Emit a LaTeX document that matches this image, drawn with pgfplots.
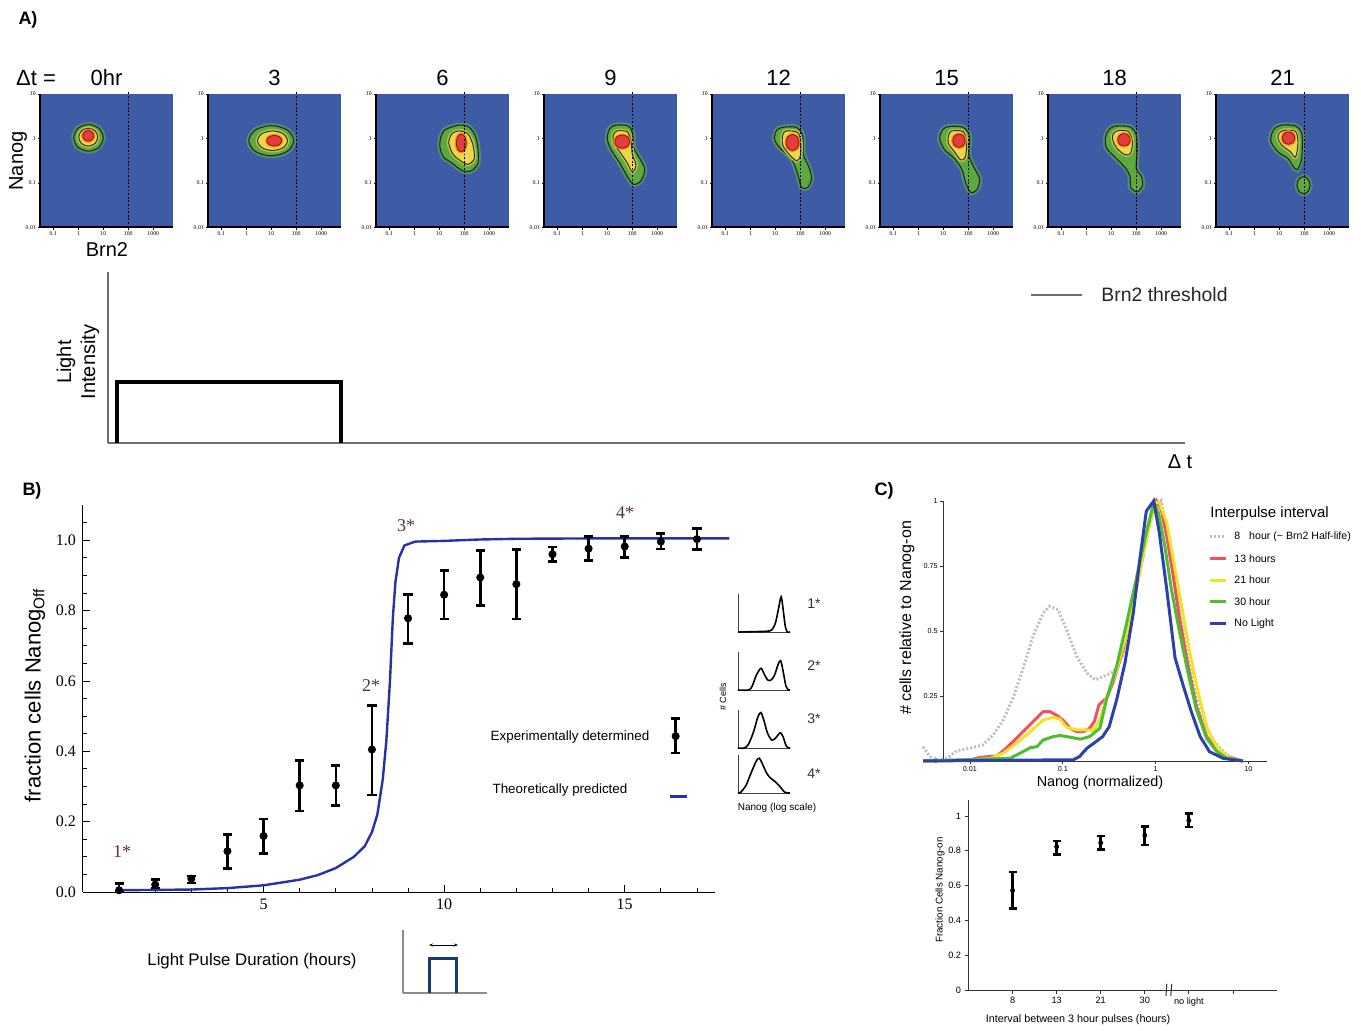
\documentclass[border=0pt]{standalone}
\usepackage{pgfplots}
\pgfplotsset{compat=1.18}
\usepackage{pgfplotstable}
\usepackage{fontspec}
\setmainfont{Liberation Sans}
\newfontfamily\serifff{Liberation Serif}
\usetikzlibrary{arrows.meta}

\definecolor{hmblue}{RGB}{62,92,166}
\definecolor{hmgreen}{RGB}{92,170,62}
\definecolor{hmglow}{RGB}{80,140,110}
\definecolor{hmyellow}{RGB}{236,214,78}
\definecolor{hmred}{RGB}{226,62,62}
\definecolor{bcurve}{RGB}{40,50,165}
\definecolor{cgray}{RGB}{190,190,190}
\definecolor{cred}{RGB}{240,80,95}
\definecolor{cyellow}{RGB}{238,228,40}
\definecolor{cgreen}{RGB}{80,188,50}
\definecolor{cblue}{RGB}{45,65,170}
\definecolor{pulseblue}{RGB}{25,60,110}
\definecolor{axgray}{RGB}{110,110,110}
\definecolor{starA}{RGB}{115,40,40}
\definecolor{starB}{RGB}{80,55,50}

\newcommand\fs[1]{\fontsize{#1}{#1}\selectfont}

\pgfplotsset{
  hm/.style={
    scale only axis, width=66.5pt, height=66.75pt, anchor=south west,
    xmin=-1.53, xmax=3.79, ymin=-2, ymax=1,
    axis x line*=bottom, axis y line*=left,
    axis line style={line width=1pt, black},
    axis background/.style={fill=hmblue},
    axis on top,
    xtick={-1,0,1,2,3}, xticklabels={0.1,1,10,100,1000},
    ytick={-2,-1,0,1}, yticklabels={0.01,0.1,1,10},
    tick label style={font=\serifff\fs{2.9}, inner sep=0.7pt},
    major tick length=1.2pt, tick align=outside,
    tick style={black, line width=0.3pt},
    clip=false,
  },
  outer/.style={fill=hmgreen, draw=black!85, line width=0.55pt, smooth cycle,
    preaction={draw=hmglow, line width=2.6pt}},
  mid/.style={fill=hmyellow, draw=black!85, line width=0.45pt, smooth cycle,
    preaction={draw=hmyellow!60!hmgreen, line width=2pt}},
  core/.style={fill=hmred, draw=red!45!black, line width=0.3pt, smooth cycle,
    preaction={draw=orange!80!hmyellow, line width=1.6pt}},
  thr/.style={black, dash pattern=on 0.9pt off 0.9pt, line width=0.35pt},
  inset/.style={scale only axis, width=26pt, height=19pt, anchor=south west,
    xmin=0, xmax=1, ymin=0, ymax=1.05, axis x line*=bottom, axis y line*=left,
    axis line style={black!75, line width=0.4pt}, xtick=\empty, ytick=\empty, clip=false},
  hist/.style={black, line width=0.8pt, smooth, tension=0.5},
  expbar/.style={black, only marks, mark=*, mark size=1.8pt,
    error bars/.cd, y dir=both, y explicit,
    error bar style={line width=1.3pt, black},
    error mark options={rotate=90, mark size=2.3pt, line width=1.3pt, black}},
}

\pgfplotstableread{
x y ep em
1 0.005 0.019 0.005
2 0.021 0.014 0.010
3 0.038 0.007 0.012
4 0.116 0.048 0.050
5 0.159 0.049 0.050
6 0.303 0.071 0.073
7 0.303 0.057 0.057
8 0.405 0.125 0.129
9 0.778 0.067 0.071
10 0.845 0.068 0.069
11 0.894 0.076 0.079
12 0.875 0.098 0.099
13 0.960 0.021 0.021
14 0.976 0.034 0.033
15 0.982 0.028 0.031
16 0.996 0.023 0.021
17 1.003 0.031 0.030
}\expdata

\pgfplotstableread{
x y ep em
16.41 0.443 0.051 0.048
}\expglyph

\pgfplotstableread{
x y ep em
1 0.572 0.106 0.104
2 0.823 0.033 0.044
3 0.846 0.039 0.038
4 0.889 0.053 0.056
5 0.975 0.040 0.038
}\nanogon

\begin{document}
\begin{tikzpicture}

% ---------------- Panel A heatmaps ----------------
\begin{axis}[hm, at={(20pt,401.25pt)}]
\addplot[outer] coordinates {(1.0,0.015) (0.829,0.228) (0.41,0.315) (-0.009,0.228) (-0.18,0.015) (-0.009,-0.198) (0.41,-0.285) (0.829,-0.198)};
\addplot[mid] coordinates {(0.78,0.03) (0.67,0.172) (0.4,0.23) (0.13,0.172) (0.02,0.03) (0.13,-0.112) (0.4,-0.17) (0.67,-0.112)};
\addplot[core] coordinates {(0.62,0.06) (0.556,0.145) (0.4,0.18) (0.244,0.145) (0.18,0.06) (0.244,-0.025) (0.4,-0.06) (0.556,-0.025)};
\addplot[thr] coordinates {(2,-2) (2,1.06)};
\end{axis}

\begin{axis}[hm, at={(104pt,401.25pt)}]
\addplot[outer] coordinates {(1.9,-0.05) (1.639,0.191) (1.0,0.29) (0.361,0.191) (0.1,-0.05) (0.361,-0.291) (1.0,-0.39) (1.639,-0.291)};
\addplot[mid] coordinates {(1.65,-0.05) (1.476,0.106) (1.05,0.17) (0.624,0.106) (0.45,-0.05) (0.624,-0.206) (1.05,-0.27) (1.476,-0.206)};
\addplot[core] coordinates {(1.42,-0.05) (1.333,0.035) (1.12,0.07) (0.907,0.035) (0.82,-0.05) (0.907,-0.135) (1.12,-0.17) (1.333,-0.135)};
\addplot[thr] coordinates {(2,-2) (2,1.06)};
\end{axis}

\begin{axis}[hm, at={(188pt,401.25pt)}]
\addplot[outer] coordinates {(1.8,0.3) (2.2,0.25) (2.45,0.05) (2.55,-0.25) (2.55,-0.55) (2.3,-0.72) (1.95,-0.73) (1.5,-0.55) (1.15,-0.4) (1.02,-0.12) (1.2,0.18)};
\addplot[mid] coordinates {(1.8,0.17) (2.15,0.1) (2.35,-0.15) (2.4,-0.45) (2.15,-0.58) (1.85,-0.5) (1.55,-0.35) (1.38,-0.1) (1.5,0.1)};
\addplot[core] coordinates {(2.08,-0.1) (2.022,0.042) (1.88,0.1) (1.738,0.042) (1.68,-0.1) (1.738,-0.242) (1.88,-0.3) (2.022,-0.242)};
\addplot[thr] coordinates {(2,-2) (2,1.06)};
\end{axis}

\begin{axis}[hm, at={(272pt,401.25pt)}]
\addplot[outer] coordinates {(1.35,0.3) (1.85,0.28) (2.02,0.1) (2.05,-0.2) (2.3,-0.45) (2.5,-0.7) (2.35,-0.95) (2.05,-1.03) (1.8,-0.85) (1.5,-0.55) (1.15,-0.25) (1.0,0.0) (1.1,0.22)};
\addplot[mid] coordinates {(1.4,0.17) (1.8,0.15) (1.95,-0.05) (2.0,-0.35) (2.15,-0.6) (2.0,-0.75) (1.8,-0.55) (1.5,-0.3) (1.25,-0.1) (1.25,0.08)};
\addplot[core] coordinates {(1.9,-0.07) (1.813,0.037) (1.6,0.08) (1.387,0.037) (1.3,-0.07) (1.387,-0.177) (1.6,-0.22) (1.813,-0.177)};
\addplot[thr] coordinates {(2,-2) (2,1.06)};
\end{axis}

\begin{axis}[hm, at={(356pt,401.25pt)}]
\addplot[outer] coordinates {(1.3,0.25) (1.85,0.25) (2.1,0.05) (2.12,-0.35) (2.35,-0.65) (2.45,-0.9) (2.3,-1.1) (2.05,-1.1) (1.9,-0.8) (1.65,-0.45) (1.2,-0.22) (0.97,-0.02) (1.05,0.18)};
\addplot[mid] coordinates {(1.45,0.17) (1.9,0.13) (2.02,-0.1) (2.0,-0.4) (1.85,-0.5) (1.55,-0.35) (1.3,-0.15) (1.3,0.08)};
\addplot[core] coordinates {(1.95,-0.09) (1.875,0.038) (1.69,0.09) (1.505,0.038) (1.43,-0.09) (1.505,-0.218) (1.69,-0.27) (1.875,-0.218)};
\addplot[thr] coordinates {(2,-2) (2,1.06)};
\end{axis}

\begin{axis}[hm, at={(440pt,401.25pt)}]
\addplot[outer] coordinates {(1.25,0.27) (1.8,0.25) (2.05,0.05) (2.02,-0.35) (2.2,-0.62) (2.45,-0.9) (2.35,-1.15) (2.1,-1.21) (1.9,-1.0) (1.75,-0.7) (1.45,-0.45) (1.05,-0.25) (0.86,0.0) (0.98,0.2)};
\addplot[mid] coordinates {(1.35,0.17) (1.8,0.15) (1.93,-0.1) (1.88,-0.42) (1.7,-0.48) (1.45,-0.3) (1.2,-0.1) (1.22,0.08)};
\addplot[core] coordinates {(1.88,-0.05) (1.808,0.057) (1.63,0.1) (1.452,0.057) (1.38,-0.05) (1.452,-0.157) (1.63,-0.2) (1.808,-0.157)};
\addplot[thr] coordinates {(2,-2) (2,1.06)};
\end{axis}

\begin{axis}[hm, at={(524pt,401.25pt)}]
\addplot[outer] coordinates {(1.2,0.28) (1.75,0.26) (2.0,0.08) (2.03,-0.3) (2.0,-0.68) (2.2,-0.85) (2.25,-1.05) (2.05,-1.2) (1.78,-1.1) (1.75,-0.85) (1.55,-0.65) (1.15,-0.42) (0.8,-0.2) (0.78,0.05) (0.95,0.22)};
\addplot[mid] coordinates {(1.3,0.18) (1.7,0.15) (1.85,-0.1) (1.75,-0.35) (1.5,-0.35) (1.2,-0.2) (1.05,0.0) (1.1,0.12)};
\addplot[core] coordinates {(1.76,-0.03) (1.688,0.069) (1.51,0.11) (1.332,0.069) (1.26,-0.03) (1.332,-0.129) (1.51,-0.17) (1.688,-0.129)};
\addplot[thr] coordinates {(2,-2) (2,1.06)};
\end{axis}

\begin{axis}[hm, at={(608pt,401.25pt)}]
\addplot[outer] coordinates {(1.1,0.3) (1.65,0.28) (1.9,0.12) (1.92,-0.2) (1.88,-0.5) (1.72,-0.7) (1.55,-0.62) (1.35,-0.45) (0.95,-0.3) (0.66,-0.05) (0.78,0.2)};
\addplot[outer] coordinates {(2.23,-1.05) (2.155,-0.915) (1.97,-0.86) (1.785,-0.915) (1.71,-1.05) (1.785,-1.185) (1.97,-1.24) (2.155,-1.185)};
\addplot[mid] coordinates {(1.2,0.18) (1.65,0.16) (1.75,-0.1) (1.65,-0.42) (1.45,-0.3) (1.1,-0.15) (0.95,0.0) (1.0,0.12)};
\addplot[core] coordinates {(1.62,0.01) (1.548,0.109) (1.37,0.15) (1.192,0.109) (1.12,0.01) (1.192,-0.089) (1.37,-0.13) (1.548,-0.089)};
\addplot[thr] coordinates {(2,-2) (2,1.06)};
\end{axis}

% ---------------- Panel A light intensity ----------------
\begin{axis}[scale only axis, width=538.5pt, height=85.5pt, anchor=south west, at={(54pt,293.5pt)},
  xmin=0, xmax=1077, ymin=0, ymax=171, axis x line*=bottom, axis y line*=left,
  axis line style={axgray, line width=0.6pt}, xtick=\empty, ytick=\empty, clip=false]
\addplot[black, line width=2pt, line join=miter] coordinates {(8.5,0) (8.5,61) (232.5,61) (232.5,0)};
\addplot[axgray, line width=0.6pt] coordinates {(923,148) (974,148)};
\end{axis}

% ---------------- Panel B ----------------
\begin{axis}[scale only axis, width=316pt, height=193.5pt, anchor=south west, at={(41.5pt,69pt)},
  xmin=0, xmax=17.5, ymin=0, ymax=1.1,
  axis x line*=bottom, axis y line*=left,
  axis line style={black, line width=0.5pt},
  xtick={5,10,15}, xticklabels={5,10,15},
  ytick={0,0.2,0.4,0.6,0.8,1.0}, yticklabels={0.0,0.2,0.4,0.6,0.8,1.0},
  minor xtick={1,2,3,4,6,7,8,9,11,12,13,14,16,17},
  minor ytick={0.05,0.1,0.15,0.25,0.3,0.35,0.45,0.5,0.55,0.65,0.7,0.75,0.85,0.9,0.95,1.05},
  tick align=inside, major tick length=3.5pt, minor tick length=2pt,
  tick style={black, line width=0.4pt},
  tick label style={font=\serifff\fs{8}},
  clip=false]
\addplot[bcurve, line width=1.2pt] coordinates {(1,0.005) (2,0.006) (3,0.007) (4,0.011) (5,0.019) (6,0.035) (6.5,0.048) (7,0.068) (7.5,0.1) (7.8,0.13) (8,0.17) (8.15,0.22) (8.3,0.32) (8.4,0.43) (8.5,0.6) (8.58,0.78) (8.65,0.88) (8.75,0.95) (8.9,0.985) (9.2,0.996) (10,0.998) (11,1.002) (12,1.004) (14,1.005) (16,1.005) (17.9,1.005)};
\addplot[expbar] table[x=x, y=y, y error plus=ep, y error minus=em] {\expdata};
\addplot[expbar] table[x=x, y=y, y error plus=ep, y error minus=em] {\expglyph};
\addplot[bcurve, line width=1.5pt] coordinates {(16.26,0.271) (16.73,0.271)};
\end{axis}

% insets
\begin{axis}[inset, at={(369pt,199pt)}]
\addplot[hist] coordinates {(0,0) (0.3,0.01) (0.55,0.02) (0.65,0.06) (0.72,0.25) (0.78,0.65) (0.83,0.97) (0.87,0.6) (0.91,0.15) (0.95,0.0) (1,0)};
\end{axis}
\begin{axis}[inset, at={(369pt,170pt)}]
\addplot[hist] coordinates {(0,0) (0.2,0.0) (0.27,0.1) (0.35,0.4) (0.44,0.6) (0.5,0.45) (0.57,0.28) (0.63,0.27) (0.7,0.4) (0.77,0.7) (0.82,0.81) (0.87,0.5) (0.92,0.12) (0.97,0) (1,0)};
\end{axis}
\begin{axis}[inset, at={(369pt,141pt)}]
\addplot[hist] coordinates {(0,0) (0.12,0.0) (0.2,0.1) (0.3,0.45) (0.38,0.85) (0.44,0.98) (0.5,0.75) (0.57,0.4) (0.65,0.22) (0.72,0.27) (0.78,0.38) (0.82,0.42) (0.87,0.3) (0.92,0.08) (0.97,0) (1,0)};
\end{axis}
\begin{axis}[inset, at={(369pt,118.5pt)}]
\addplot[hist] coordinates {(0,0) (0.05,0.02) (0.15,0.2) (0.25,0.55) (0.35,0.88) (0.41,0.96) (0.47,0.8) (0.55,0.55) (0.62,0.42) (0.7,0.33) (0.78,0.22) (0.84,0.12) (0.9,0.02) (1,0)};
\end{axis}

% pulse icon
\begin{axis}[scale only axis, width=42pt, height=31.5pt, anchor=south west, at={(201.5pt,18.5pt)},
  xmin=0, xmax=84, ymin=0, ymax=63, axis x line*=bottom, axis y line*=left,
  axis line style={black!45, line width=0.6pt}, xtick=\empty, ytick=\empty, clip=false]
\addplot[pulseblue, line width=1.5pt, line join=miter] coordinates {(26.5,0) (26.5,35) (53.7,35) (53.7,0)};
\addplot[black, line width=0.4pt, {Stealth[length=2pt]}-{Stealth[length=2pt]}] coordinates {(26,48) (55,48)};
\end{axis}

% ---------------- Panel C top ----------------
\begin{axis}[scale only axis, width=162pt, height=130pt, anchor=south west, at={(471.5pt,134.5pt)},
  xmin=-2.29, xmax=1.2, ymin=0, ymax=1,
  axis x line*=bottom, axis y line*=left,
  axis line style={black!80, line width=0.4pt},
  xtick={-2,-1,0,1}, xticklabels={0.01,0.1,1,10},
  ytick={0,0.25,0.5,0.75,1}, yticklabels={0,0.25,0.5,0.75,1},
  tick align=outside, major tick length=1.5pt, tick style={black!80, line width=0.3pt},
  tick label style={font=\fs{3.6}, inner sep=1pt},
  clip=false]
\addplot[black!80, line width=0.4pt] coordinates {(-2.505,0) (-2.29,0)};
\addplot[cgray, line width=1.5pt, dash pattern=on 1pt off 1pt] coordinates {(-2.505,0.055) (-2.43,0.017) (-2.34,0.004) (-2.25,0.01) (-2.14,0.04) (-2.0,0.049) (-1.86,0.062) (-1.75,0.1) (-1.64,0.158) (-1.53,0.248) (-1.42,0.364) (-1.32,0.48) (-1.21,0.57) (-1.14,0.595) (-1.05,0.582) (-0.96,0.505) (-0.85,0.402) (-0.74,0.338) (-0.65,0.312) (-0.56,0.325) (-0.45,0.344) (-0.36,0.402) (-0.27,0.531) (-0.17,0.737) (-0.08,0.891) (-0.01,0.968) (0.06,1.0) (0.12,0.891) (0.19,0.724) (0.26,0.57) (0.35,0.402) (0.44,0.248) (0.53,0.145) (0.62,0.081) (0.73,0.036) (0.83,0.01) (0.94,0)};
\addplot[cred, line width=1.5pt] coordinates {(-2.505,0) (-2.0,0.004) (-1.89,0.014) (-1.71,0.019) (-1.61,0.049) (-1.5,0.087) (-1.39,0.126) (-1.3,0.158) (-1.21,0.19) (-1.14,0.19) (-1.07,0.177) (-1.0,0.158) (-0.92,0.126) (-0.85,0.113) (-0.78,0.113) (-0.71,0.126) (-0.66,0.152) (-0.61,0.216) (-0.53,0.242) (-0.46,0.3) (-0.35,0.428) (-0.24,0.608) (-0.13,0.8) (-0.06,0.93) (0.01,1.0) (0.06,0.968) (0.12,0.865) (0.19,0.711) (0.26,0.544) (0.35,0.364) (0.44,0.21) (0.55,0.094) (0.66,0.042) (0.77,0.017) (0.94,0)};
\addplot[cyellow, line width=1.5pt] coordinates {(-2.505,0) (-2.0,0.004) (-1.78,0.01) (-1.64,0.03) (-1.5,0.068) (-1.35,0.113) (-1.21,0.158) (-1.1,0.168) (-1.03,0.161) (-0.96,0.13) (-0.85,0.12) (-0.74,0.12) (-0.67,0.117) (-0.6,0.158) (-0.53,0.242) (-0.42,0.351) (-0.32,0.48) (-0.21,0.66) (-0.1,0.852) (-0.01,0.994) (0.04,0.994) (0.12,0.917) (0.19,0.776) (0.28,0.595) (0.37,0.415) (0.46,0.261) (0.56,0.12) (0.67,0.049) (0.8,0.01) (0.94,0)};
\addplot[cgreen, line width=1.5pt] coordinates {(-2.505,0) (-1.57,0.01) (-1.46,0.03) (-1.35,0.051) (-1.28,0.055) (-1.21,0.081) (-1.1,0.094) (-1.03,0.098) (-0.96,0.094) (-0.81,0.084) (-0.71,0.094) (-0.6,0.126) (-0.53,0.235) (-0.42,0.364) (-0.32,0.518) (-0.21,0.698) (-0.1,0.878) (-0.02,0.994) (0.03,0.955) (0.1,0.826) (0.17,0.66) (0.26,0.492) (0.35,0.338) (0.44,0.197) (0.55,0.087) (0.66,0.036) (0.77,0.01) (0.94,0)};
\addplot[cblue, line width=1.5pt] coordinates {(-2.505,0) (-1.17,0.004) (-0.89,0.004) (-0.82,0.017) (-0.74,0.049) (-0.64,0.075) (-0.57,0.094) (-0.5,0.132) (-0.42,0.235) (-0.33,0.377) (-0.24,0.57) (-0.17,0.776) (-0.1,0.961) (-0.02,1.0) (0.04,0.878) (0.12,0.66) (0.21,0.396) (0.3,0.287) (0.39,0.184) (0.48,0.094) (0.58,0.036) (0.73,0.01) (0.94,0)};
% legend samples
\addplot[cgray, line width=1.5pt, dash pattern=on 1pt off 1pt] coordinates {(0.581,0.863) (0.753,0.863)};
\addplot[cred, line width=1.5pt] coordinates {(0.581,0.778) (0.753,0.778)};
\addplot[cyellow, line width=1.5pt] coordinates {(0.581,0.696) (0.753,0.696)};
\addplot[cgreen, line width=1.5pt] coordinates {(0.581,0.612) (0.753,0.612)};
\addplot[cblue, line width=1.5pt] coordinates {(0.581,0.528) (0.753,0.528)};
\end{axis}

% ---------------- Panel C bottom ----------------
\begin{axis}[scale only axis, width=154.25pt, height=95pt, anchor=south west, at={(484.25pt,20pt)},
  xmin=0, xmax=7, ymin=0, ymax=1.092,
  axis x line*=bottom, axis y line*=left, axis line style={black!80, line width=0.5pt},
  xtick={1,2,3,4,5,6}, xticklabels={8,13,21,30,no light,{}},
  ytick={0,0.2,0.4,0.6,0.8,1}, yticklabels={0,0.2,0.4,0.6,0.8,1},
  tick align=outside, major tick length=2pt, tick style={black!80, line width=0.4pt},
  tick label style={font=\fs{4.6}, inner sep=1.5pt},
  clip=false]
\addplot[black, only marks, mark=*, mark size=1pt,
    error bars/.cd, y dir=both, y explicit,
    error bar style={line width=1.4pt, black},
    error mark options={rotate=90, mark size=2pt, line width=1.4pt, black}]
  table[x=x, y=y, y error plus=ep, y error minus=em] {\nanogon};
\addplot[black!80, line width=0.5pt] coordinates {(4.48,-0.035) (4.50,0.035)};
\addplot[black!80, line width=0.5pt] coordinates {(4.59,-0.035) (4.61,0.035)};
\end{axis}

% ---------------- Text ----------------
\begin{scope}[x=0.5pt, y=0.5pt]
\node[font=\bfseries\fs{9}] at (28,1010) {A)};
\node[font=\fs{11}] at (36,952) {Δt =};
\foreach \t [count=\i from 0] in {0hr,3,6,9,12,15,18,21}
  \node[font=\fs{11}] at ({106.5+168*\i},952) {\t};
\node[font=\fs{10}, rotate=90] at (18,869) {Nanog};
\node[font=\fs{10}] at (107,780) {Brn2};
\node[font=\fontsize{10}{12}\selectfont, rotate=90, align=center] at (78,668) {Light\\Intensity};
\node[font=\fs{10}] at (1180,568) {Δ t};
\node[font=\fs{9.7}, anchor=west, inner sep=0pt, text=black!85] at (1101,735) {Brn2 threshold};

\node[font=\bfseries\fs{9}] at (32,539) {B)};
\node[font=\bfseries\fs{9}] at (884,539) {C)};
\node[font=\fs{11}, rotate=90] at (35,335) {fraction cells Nanog\textsubscript{Off}};
\node[font=\fs{8.4}] at (252,69) {Light Pulse Duration (hours)};
\node[font=\fs{6.7}] at (570,293) {Experimentally determined};
\node[font=\fs{6.7}] at (560,240) {Theoretically predicted};
\node[font=\serifff\fs{9}, text=starA] at (122,178) {1*};
\node[font=\serifff\fs{9}, text=starB] at (371,344) {2*};
\node[font=\serifff\fs{9}, text=starB] at (406,504) {3*};
\node[font=\serifff\fs{9}, text=starB] at (625,517) {4*};
\node[font=\fs{4.5}, rotate=90] at (723,333) {\# Cells};
\node[font=\fs{5}] at (777,222) {Nanog (log scale)};
\node[font=\fs{7}, text=black!80] at (814,426) {1*};
\node[font=\fs{7}, text=black!80] at (814,364) {2*};
\node[font=\fs{7}, text=black!80] at (814,311) {3*};
\node[font=\fs{7}, text=black!80] at (814,256) {4*};

\node[font=\fs{8}, rotate=90] at (907,412) {\# cells relative to Nanog-on};
\node[font=\fs{7.2}] at (1100,247) {Nanog (normalized)};
\node[font=\fs{7.5}, anchor=west, inner sep=0pt] at (1210,516) {Interpulse interval};
\node[font=\fs{5.3}, anchor=west, inner sep=0pt] at (1234,493.3) {8\hspace{3pt} hour (\textasciitilde{} Brn2 Half-life)};
\node[font=\fs{5.3}, anchor=west, inner sep=0pt] at (1234,471.3) {13 hours};
\node[font=\fs{5.3}, anchor=west, inner sep=0pt] at (1234,450) {21 hour};
\node[font=\fs{5.3}, anchor=west, inner sep=0pt] at (1234,428) {30 hour};
\node[font=\fs{5.3}, anchor=west, inner sep=0pt] at (1234,406.3) {No Light};
\node[font=\fs{4.9}, rotate=90] at (940,140) {Fraction Cells Nanog-on};
\node[font=\fs{5.4}] at (1078,10) {Interval between 3 hour pulses (hours)};

\pgfresetboundingbox
\useasboundingbox (0,0) rectangle (1361,1030);
\end{scope}
\end{tikzpicture}
\end{document}
